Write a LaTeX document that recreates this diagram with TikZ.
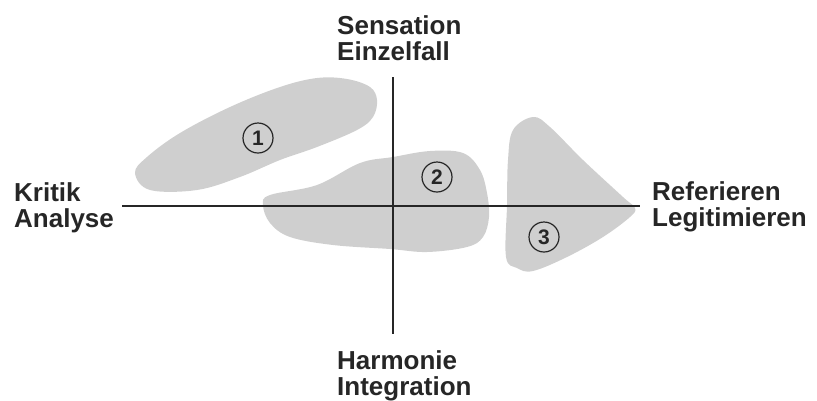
\documentclass[tikz,border=0pt]{standalone}
\usepackage{fontspec}
\setmainfont{Liberation Sans}
\tikzset{
  blob/.style={fill=black!19, draw=none},
  axisline/.style={draw=black!85, line width=1.1pt},
  lab/.style={anchor=base west, align=left, inner sep=0pt, font=\bfseries\fontsize{26}{26}\selectfont, text=black!85},
  num/.style={circle, draw=black!85, line width=1.2pt, minimum size=30pt, inner sep=0pt, font=\bfseries\fontsize{21}{21}\selectfont, text=black!85},
}

\begin{document}
\begin{tikzpicture}[x=1pt, y=-1pt]
    \useasboundingbox (0,0) rectangle (817,400);
    % shaded areas
    \fill[blob] plot[smooth cycle, tension=0.6] coordinates {(135,173) (150,190) (197,190) (240,177) (280,160) (317,147) (357,130) (373,117) (377,100) (370,87) (347,79) (317,78) (280,87) (230,107) (180,133) (147,157)};
    \fill[blob] plot[smooth cycle, tension=0.6] coordinates {(263,205) (270,195) (317,185) (360,163) (393,157) (430,151) (463,153) (480,170) (487,193) (489,217) (483,237) (467,247) (427,252) (390,249) (333,245) (290,237) (270,223)};
    \fill[blob] plot[smooth cycle, tension=0.6] coordinates {(533,117) (513,130) (508,160) (507,205) (506,257) (517,268) (533,271) (567,257) (603,237) (630,217) (635,208) (623,197) (583,160) (550,127)};
    % axes
    \coordinate (top) at (393,77);
    \coordinate (bottom) at (393,334);
    \coordinate (left) at (122,206);
    \coordinate (right) at (640,206);
    \draw[axisline] (top) -- (bottom);
    \draw[axisline] (left) -- (right);
    % labels
    \node[lab] (sens) at (337,60) {Sensation\\Einzelfall};
    \node[lab] (harm) at (337,395) {Harmonie\\Integration};
    \node[lab] (krit) at (14,227) {Kritik\\Analyse};
    \node[lab] (ref) at (652,226) {Referieren\\Legitimieren};
    % numbers
    \node[num] (n1) at (258,138) {1};
    \node[num] (n2) at (437,177) {2};
    \node[num] (n3) at (544,237) {3};
\end{tikzpicture}
\end{document}
